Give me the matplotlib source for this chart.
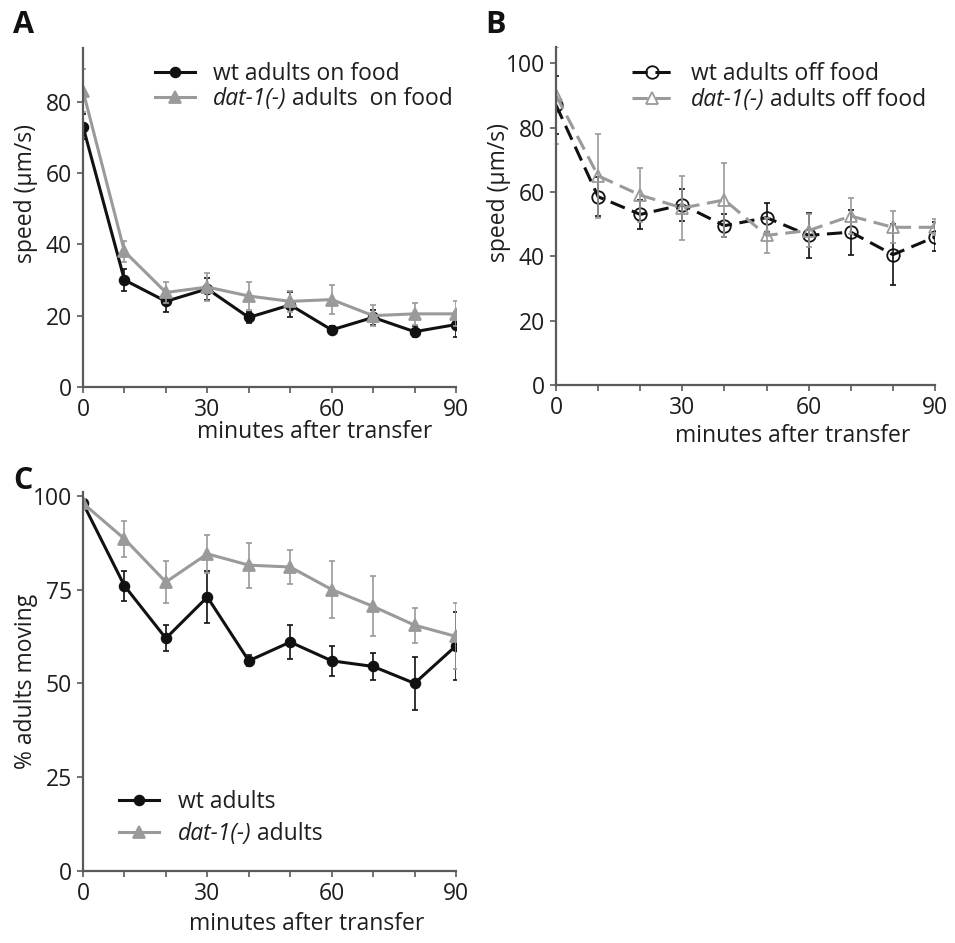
import numpy as np
import matplotlib
matplotlib.use("Agg")
import matplotlib.pyplot as plt

plt.rcParams["font.family"] = ["Open Sans", "DejaVu Sans"]
plt.rcParams["font.size"] = 16.5

minutes = [0, 10, 20, 30, 40, 50, 60, 70, 80, 90]

# A: speed on food
wt_on = [73, 30, 24, 27.5, 19.5, 23, 16, 19.5, 15.5, 17.5]
wt_on_err = [3.5, 3, 3, 3, 1.5, 3.5, 1, 2, 1.5, 3.5]
dat_on = [83, 38, 26.5, 28, 25.5, 24, 24.5, 20, 20.5, 20.5]
dat_on_err = [6, 3, 3, 4, 4, 3, 4, 3, 3, 3.5]

# B: speed off food
wt_off = [87, 58.5, 53, 56, 49.5, 52, 46.5, 47.5, 40.5, 46]
wt_off_err = [9, 6, 4.5, 5, 3.5, 4.5, 7, 7, 9.5, 4.5]
dat_off = [90, 65, 59, 55, 57.5, 46.5, 48, 52.5, 49, 49]
dat_off_err = [15, 13, 8.5, 10, 11.5, 5.5, 5, 5.5, 5, 2.5]

# C: % adults moving
wt_mov = [98, 76, 62, 73, 56, 61, 56, 54.5, 50, 60]
wt_mov_err = [1, 4, 3.5, 7, 1.5, 4.5, 4, 3.7, 7, 9]
dat_mov = [98, 88.5, 77, 84.5, 81.5, 81, 75, 70.5, 65.5, 62.5]
dat_mov_err = [1, 4.8, 5.5, 5, 6, 4.5, 7.7, 8, 4.7, 8.8]

BLACK = "#111111"
GRAY = "#9a9a9a"
TXT = "#1e1e1e"
DASH = (0, (5, 2.5))

fig = plt.figure(figsize=(9.55, 9.43), dpi=100)
axA = fig.add_axes([0.0869, 0.5896, 0.3906, 0.3595])
axB = fig.add_axes([0.5822, 0.5917, 0.3969, 0.3584])
axC = fig.add_axes([0.0869, 0.0764, 0.3906, 0.4019])


def style(ax, ylim, yticks, xlab_x, xlab_y, ylab, ylab_x, ylab_y):
    for s in ["top", "right"]:
        ax.spines[s].set_visible(False)
    for s in ["left", "bottom"]:
        ax.spines[s].set_color("#5a5a5a")
        ax.spines[s].set_linewidth(1.6)
    ax.set_xlim(0, 90)
    ax.set_ylim(*ylim)
    ax.set_xticks(minutes, minor=True)
    ax.set_xticks([0, 30, 60, 90])
    ax.set_yticks(yticks)
    ax.tick_params(axis="both", which="both", direction="out", color="#5a5a5a",
                   labelcolor=TXT, length=4, width=1.2, labelsize=16.5, pad=4)
    ax.set_xlabel("minutes after transfer", color=TXT, fontsize=16.5)
    ax.xaxis.set_label_coords(xlab_x, xlab_y)
    ax.set_ylabel(ylab, color=TXT, fontsize=16.5)
    ax.yaxis.set_label_coords(ylab_x, ylab_y)


def series(ax, y, err, color, marker, ms, label, open_marker=False, ls="-"):
    ax.errorbar(minutes, y, yerr=err, fmt="none", ecolor=color,
                elinewidth=1.2, capsize=2, capthick=1.2)
    ax.plot(minutes, y, color=color, marker=marker, ms=ms, lw=2.2, ls=ls,
            mfc="none" if open_marker else color, mew=1.3, label=label)


def add_legend(ax, rest, **kw):
    leg = ax.legend(frameon=False, handlelength=1.75, handletextpad=0.8,
                    fontsize=16.5, borderaxespad=0.2, **kw)
    t = leg.get_texts()[1]
    t.set_style("italic")
    ax.annotate(rest, xy=(1, 0), xycoords=t, va="bottom", ha="left",
                fontsize=16.5, color=TXT, zorder=10, annotation_clip=False)
    for tx in leg.get_texts():
        tx.set_color(TXT)
    return leg


# panel A
series(axA, wt_on, wt_on_err, BLACK, "o", 7, "wt adults on food")
series(axA, dat_on, dat_on_err, GRAY, "^", 8, "dat-1(-)")
style(axA, (0, 95), [0, 20, 40, 60, 80], 0.62, -0.097, "speed (\u03bcm/s)", -0.12, 0.57)
add_legend(axA, " adults  on food", loc="upper left", bbox_to_anchor=(0.155, 1.0),
           labelspacing=0.05)

# panel B
series(axB, wt_off, wt_off_err, BLACK, "o", 9, "wt adults off food", True, DASH)
series(axB, dat_off, dat_off_err, GRAY, "^", 9, "dat-1(-)", True, DASH)
style(axB, (0, 105), [0, 20, 40, 60, 80, 100], 0.625, -0.115, "speed (\u03bcm/s)", -0.119, 0.57)
add_legend(axB, " adults off food", loc="upper left", bbox_to_anchor=(0.165, 0.995),
           labelspacing=0.05)

# panel C
series(axC, wt_mov, wt_mov_err, BLACK, "o", 7, "wt adults")
series(axC, dat_mov, dat_mov_err, GRAY, "^", 8, "dat-1(-)")
style(axC, (0, 101), [0, 25, 50, 75, 100], 0.60, -0.108, "% adults moving", -0.12, 0.50)
add_legend(axC, " adults", loc="lower left", bbox_to_anchor=(0.06, 0.03),
           labelspacing=0.35)

fig.text(0.014, 0.973, "A", fontsize=22, fontweight="bold", color=BLACK, va="center")
fig.text(0.508, 0.973, "B", fontsize=22, fontweight="bold", color=BLACK, va="center")
fig.text(0.014, 0.49, "C", fontsize=22, fontweight="bold", color=BLACK, va="center")

fig.savefig("out.png", dpi=100)
